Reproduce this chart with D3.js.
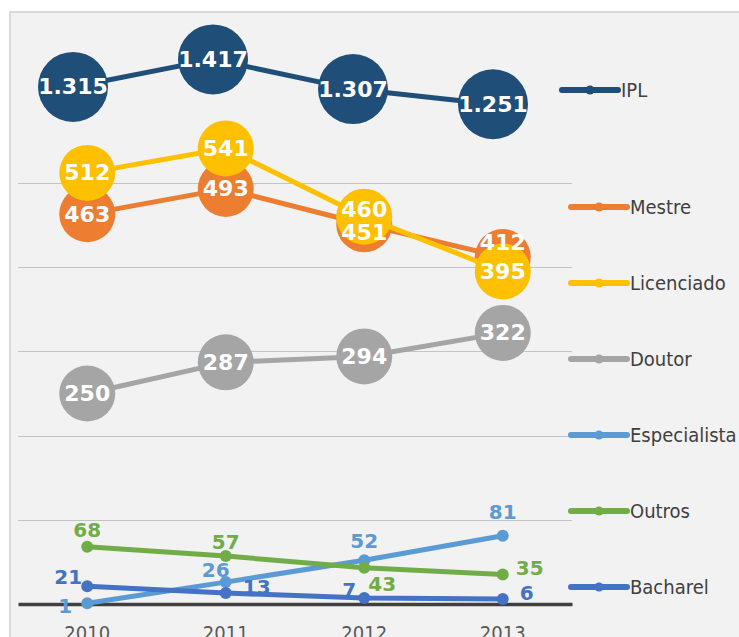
<!DOCTYPE html>
<html>
<head>
<meta charset="utf-8">
<script src="https://cdn.jsdelivr.net/npm/d3@7"></script>
<style>
  body { margin: 0; background: #fff; }
  svg { display: block; }
</style>
</head>
<body>
<div id="viz"></div>
<script>
// data
const years = ["2010", "2011", "2012", "2013"]
const ipl = [1315, 1417, 1307, 1251]
const mestre = [463, 493, 451, 412]
const licenciado = [512, 541, 460, 395]
const doutor = [250, 287, 294, 322]
const especialista = [1, 26, 52, 81]
const outros = [68, 57, 43, 35]
const bacharel = [21, 13, 7, 6]
const legendNames = ["IPL", "Mestre", "Licenciado", "Doutor", "Especialista", "Outros", "Bacharel"]
const gridTicks = [100, 200, 300, 400, 500]

const width = 739, height = 637

// label offsets (label centre relative to marker), hand placed like in the original
const labelShift = {
  Licenciado: [[0, 0], [0, 0], [0, -7], [0, 0]],
  Mestre: [[0, 0], [0, 0], [0, 8], [0, -15]],
  Especialista: [[-22, 3], [-10, -12], [0, -19], [0, -24]],
  Outros: [[0, -17], [0, -14], [18, 16], [27, -7]],
  Bacharel: [[-19, -9], [31, -6], [-15, -8], [24, -6]]
}

const series = [
  { name: "Mestre", values: mestre, color: "#ed7d31", big: true },
  { name: "Licenciado", values: licenciado, color: "#ffc000", big: true },
  { name: "Doutor", values: doutor, color: "#a5a5a5", big: true },
  { name: "Especialista", values: especialista, color: "#5b9bd5", big: false },
  { name: "Outros", values: outros, color: "#70ad47", big: false },
  { name: "Bacharel", values: bacharel, color: "#4472c4", big: false },
  { name: "IPL", values: ipl, color: "#1f4e79", big: true, secondary: true }
]

const ptFormat = d3.formatLocale({ decimal: ",", thousands: ".", grouping: [3], currency: ["", "€"] }).format(",d")

// scales
const x = d3.scaleBand().domain(years).range([18, 572])
const x2 = d3.scaleBand().domain(years).range([3, 563])   // IPL sits on its own axis
const y = d3.scaleLinear().domain([0, 700]).range([604, 14.6])
const y2 = d3.scaleLinear().domain([-600, 1600]).range([604, 10])

const svg = d3.select("#viz").append("svg")
  .attr("width", width)
  .attr("height", height)

// chart frame
svg.append("rect")
  .attr("x", 10).attr("y", 12)
  .attr("width", width).attr("height", height)
  .attr("fill", "#f2f2f2")
  .attr("stroke", "#d0d0d0")
  .attr("stroke-width", 1.5)

// gridlines
svg.append("g").selectAll("line")
  .data(gridTicks)
  .join("line")
    .attr("x1", 18).attr("x2", 572)
    .attr("y1", d => Math.round(y(d)) + 0.5)
    .attr("y2", d => Math.round(y(d)) + 0.5)
    .attr("stroke", "#c4c4c4")
    .attr("stroke-width", 1.2)

// x axis
const xAxis = svg.append("g")
  .attr("transform", `translate(0,${y(0)})`)
  .call(d3.axisBottom(x).tickSize(0).tickPadding(22))
xAxis.select(".domain").attr("stroke", "#404040").attr("stroke-width", 3.5)
xAxis.selectAll("text")
  .attr("fill", "#595959")
  .style("font", "20px 'DejaVu Sans Condensed', 'DejaVu Sans'")

// lines + markers
const plot = svg.append("g")
series.forEach(s => {
  const xs = s.secondary ? x2 : x
  const ys = s.secondary ? y2 : y
  const cx = (d, i) => xs(years[i]) + xs.bandwidth() / 2
  const line = d3.line().x(cx).y(d => ys(d))
  const g = plot.append("g")
  g.append("path")
    .datum(s.values)
    .attr("d", line)
    .attr("fill", "none")
    .attr("stroke", s.color)
    .attr("stroke-width", 5)
    .attr("stroke-linejoin", "round")
  g.selectAll("circle")
    .data(s.values)
    .join("circle")
      .attr("cx", cx)
      .attr("cy", d => ys(d))
      .attr("r", s.secondary ? 35 : s.big ? 28 : 6)
      .attr("fill", s.color)
  s.cx = cx
  s.ys = ys
})

// data labels on top
series.forEach(s => {
  const shift = labelShift[s.name] || s.values.map(() => [0, 0])
  plot.append("g").selectAll("text")
    .data(s.values)
    .join("text")
      .attr("x", (d, i) => s.cx(d, i) + shift[i][0])
      .attr("y", (d, i) => s.ys(d) + shift[i][1])
      .attr("text-anchor", "middle")
      .attr("dominant-baseline", "central")
      .attr("fill", s.big ? "#fff" : s.color)
      .style("font", `bold ${s.big ? 22 : 20}px 'DejaVu Sans'`)
      .text(d => ptFormat(d))
})

// legend
const legendY = d3.scalePoint().domain(legendNames.slice(1)).range([207, 587])
const legend = svg.append("g").selectAll("g")
  .data(legendNames)
  .join("g")
    .attr("transform", (d, i) => i === 0 ? "translate(562,90)" : `translate(571,${legendY(d)})`)
legend.append("line")
  .attr("x1", 0).attr("x2", 56)
  .attr("stroke", d => series.find(s => s.name === d).color)
  .attr("stroke-width", 6)
  .attr("stroke-linecap", "round")
legend.append("circle")
  .attr("cx", 28).attr("r", 4.5)
  .attr("fill", d => series.find(s => s.name === d).color)
legend.append("text")
  .attr("x", 59)
  .attr("dy", "0.35em")
  .attr("fill", "#404040")
  .style("font", "20px 'DejaVu Sans Condensed', 'DejaVu Sans'")
  .text(d => d)
</script>
</body>
</html>
